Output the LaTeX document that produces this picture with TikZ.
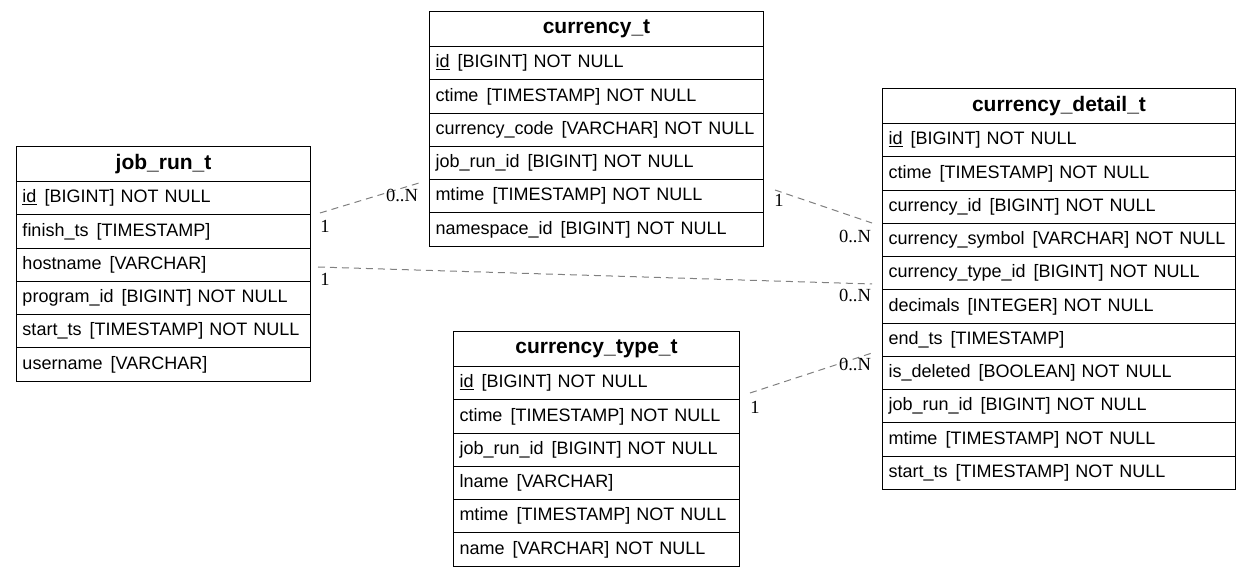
\documentclass[tikz,border=0pt]{standalone}
\usepackage{fontspec}
\setmainfont{Liberation Sans}
\newfontfamily\lblfont{Liberation Serif}
\tikzset{
  hdr/.style={draw, line width=1pt, anchor=north west, minimum height=35pt, inner sep=0pt, font=\fontsize{21}{23}\selectfont\bfseries},
  rowbox/.style={draw, line width=1pt, anchor=north west, minimum height=33.27pt, inner ysep=0pt, inner xsep=6pt, align=left, font=\fontsize{18}{20}\selectfont},
  rel/.style={draw=gray, line width=1pt, dash pattern=on 7pt off 5pt},
  card/.style={inner sep=0pt, font=\lblfont\fontsize{18.5}{20}\selectfont, text=black}
}
\newcommand\ertable[6]{%
  \pgfmathsetmacro\tw{#4-12}%
  \node[hdr, minimum width=#4pt] (#1) at (#2,#3) {#5};
  \foreach \r [count=\i] in {#6} {
    \pgfmathsetmacro\ry{#3+35+(\i-1)*33.27}
    \node[rowbox, text width=\tw pt] (#1-\i) at (#2,\ry) {\r};
  }
}
\newcommand\gap{\hspace{0.45em}}
\begin{document}
\begin{tikzpicture}[x=1pt,y=-1pt]
\useasboundingbox (0,0) rectangle (1251,577);
\ertable{jr}{16}{146}{294}{job\_run\_t}{%
  {\underline{id}\gap[BIGINT] NOT NULL},
  {finish\_ts\gap[TIMESTAMP]},
  {hostname\gap[VARCHAR]},
  {program\_id\gap[BIGINT] NOT NULL},
  {start\_ts\gap[TIMESTAMP] NOT NULL},
  {username\gap[VARCHAR]}}
\ertable{cu}{429}{11}{334}{currency\_t}{%
  {\underline{id}\gap[BIGINT] NOT NULL},
  {ctime\gap[TIMESTAMP] NOT NULL},
  {currency\_code\gap[VARCHAR] NOT NULL},
  {job\_run\_id\gap[BIGINT] NOT NULL},
  {mtime\gap[TIMESTAMP] NOT NULL},
  {namespace\_id\gap[BIGINT] NOT NULL}}
\ertable{cd}{882}{88}{353}{currency\_detail\_t}{%
  {\underline{id}\gap[BIGINT] NOT NULL},
  {ctime\gap[TIMESTAMP] NOT NULL},
  {currency\_id\gap[BIGINT] NOT NULL},
  {currency\_symbol\gap[VARCHAR] NOT NULL},
  {currency\_type\_id\gap[BIGINT] NOT NULL},
  {decimals\gap[INTEGER] NOT NULL},
  {end\_ts\gap[TIMESTAMP]},
  {is\_deleted\gap[BOOLEAN] NOT NULL},
  {job\_run\_id\gap[BIGINT] NOT NULL},
  {mtime\gap[TIMESTAMP] NOT NULL},
  {start\_ts\gap[TIMESTAMP] NOT NULL}}
\ertable{ct}{453}{331}{286}{currency\_type\_t}{%
  {\underline{id}\gap[BIGINT] NOT NULL},
  {ctime\gap[TIMESTAMP] NOT NULL},
  {job\_run\_id\gap[BIGINT] NOT NULL},
  {lname\gap[VARCHAR]},
  {mtime\gap[TIMESTAMP] NOT NULL},
  {name\gap[VARCHAR] NOT NULL}}
% connector end points
\coordinate (e1a) at (320,213);
\coordinate (e1b) at (419,183);
\coordinate (e2a) at (775,190);
\coordinate (e2b) at (872,223);
\coordinate (e3a) at (318,267);
\coordinate (e3b) at (872,284);
\coordinate (e4a) at (750,393);
\coordinate (e4b) at (872,353);
\draw[rel] (e1a) -- (e1b);
\draw[rel] (e2a) -- (e2b);
\draw[rel] (e3a) -- (e3b);
\draw[rel] (e4a) -- (e4b);
\node[card] (c1a) at (325,226) {1};
\node[card] (c1b) at (402,195) {0..N};
\node[card] (c2a) at (779,200) {1};
\node[card] (c2b) at (855,236) {0..N};
\node[card] (c3a) at (325,279) {1};
\node[card] (c3b) at (855,295) {0..N};
\node[card] (c4a) at (755,407) {1};
\node[card] (c4b) at (855,364) {0..N};
\end{tikzpicture}
\end{document}
